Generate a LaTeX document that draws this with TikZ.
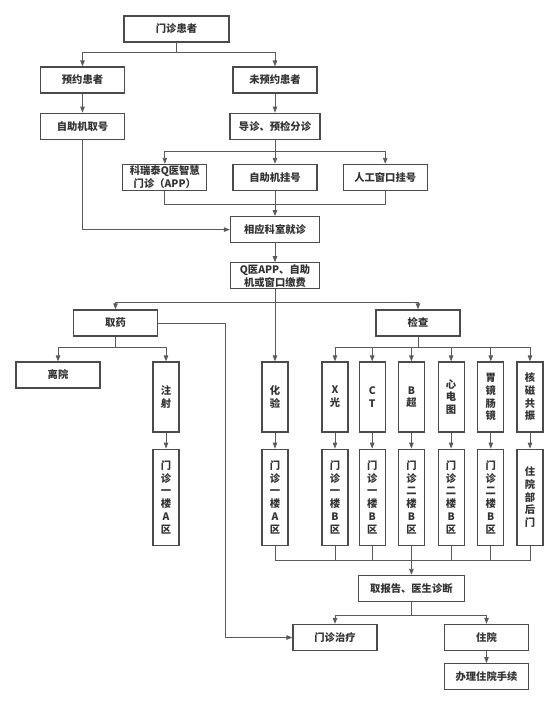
\documentclass[tikz,border=0pt]{standalone}
\usepackage{fontspec}
\usepackage{xcolor}
\usetikzlibrary{arrows.meta,positioning,calc}
\newfontfamily\cjk{Noto Sans CJK SC}
\definecolor{linegray}{RGB}{90,90,90}
\definecolor{boxgray}{RGB}{75,75,75}
\definecolor{textgray}{RGB}{51,51,51}

\tikzset{
  flowbox/.style={rectangle, draw=boxgray, line width=1.2pt, fill=white, text=textgray,
    minimum width=84pt, minimum height=26pt, inner sep=1pt, align=center,
    font=\cjk\bfseries\fontsize{10.3}{12.7}\selectfont},
  tallbox/.style={flowbox, minimum width=26pt, minimum height=70pt},
  roombox/.style={flowbox, minimum width=26pt, minimum height=96pt},
  link/.style={draw=linegray, line width=0.9pt, -{Triangle[length=6pt,width=4.5pt]}},
  joinline/.style={draw=linegray, line width=0.9pt}
}

\begin{document}
\begin{tikzpicture}[x=1pt, y=-1pt, node distance=20pt]
\useasboundingbox (0,0) rectangle (553,706);

\node[flowbox, minimum width=105pt] (patient) at (176.5,29) {门诊患者};
\node[flowbox] (yuyue) at (82.5,80) {预约患者};
\node[flowbox] (weiyuyue) at (275,80) {未预约患者};
\node[flowbox, below=19pt of yuyue] (quhao) {自助机取号};
\node[flowbox, minimum width=90pt, below=19pt of weiyuyue] (daozhen) {导诊、预检分诊};
\node[flowbox, below=24pt of daozhen] (zizhu) {自助机挂号};
\node[flowbox, left=25pt of zizhu] (app) {科瑞泰Q医智慧\\门诊（APP）};
\node[flowbox, right=25pt of zizhu] (rengong) {人工窗口挂号};
\node[flowbox, minimum width=89pt, below=25pt of zizhu] (jiuzhen) {相应科室就诊};
\node[flowbox, minimum width=89pt, below=19pt of jiuzhen] (jiaofei) {Q医APP、自助\\机或窗口缴费};

\node[flowbox] (quyao) at (115.5,323) {取药};
\node[flowbox] (jiancha) at (418,323) {检查};
\node[flowbox] (liyuan) at (58,375) {离院};
\node[tallbox] (zhushe) at (166,397) {注\\射};
\node[roombox, below=16pt of zhushe] (roomz) {门\\诊\\一\\楼\\A\\区};

\node[tallbox] (huayan) at (275,397) {化\\验};
\node[tallbox] (xray) at (335,397) {X\\光};
\node[tallbox, right=10pt of xray] (ct) {C\\T};
\node[tallbox, right=12pt of ct] (bchao) {B\\超};
\node[tallbox, right=12.5pt of bchao] (xindian) {心\\电\\图};
\node[tallbox, right=12.5pt of xindian] (weijing) {胃\\镜\\肠\\镜};
\node[tallbox, right=12pt of weijing] (heci) {核\\磁\\共\\振};

\node[roombox, below=16pt of huayan] (roomh) {门\\诊\\一\\楼\\A\\区};
\node[roombox, below=16pt of xray] (roomx) {门\\诊\\一\\楼\\B\\区};
\node[roombox, below=16pt of ct] (roomc) {门\\诊\\一\\楼\\B\\区};
\node[roombox, below=16pt of bchao] (roomb) {门\\诊\\二\\楼\\B\\区};
\node[roombox, below=16pt of xindian] (roomd) {门\\诊\\二\\楼\\B\\区};
\node[roombox, below=16pt of weijing] (roomw) {门\\诊\\二\\楼\\B\\区};
\node[roombox, below=16pt of heci] (roomn) {住\\院\\部\\后\\门};

\coordinate[below=15pt of roomb] (merge);
\node[flowbox, minimum width=106pt, below=29pt of roomb] (baogao) {取报告、医生诊断};
\node[flowbox] (zhiliao) at (335,637.5) {门诊治疗};
\node[flowbox] (zhuyuan) at (486.5,637.5) {住院};
\node[flowbox, below=12pt of zhuyuan] (banli) {办理住院手续};

% registration
\draw[link] (patient.south) -- ++(0,10) -| (yuyue.north);
\draw[link] (patient.south) -- ++(0,10) -| (weiyuyue.north);
\draw[link] (yuyue) -- (quhao);
\draw[link] (weiyuyue) -- (daozhen);
\draw[link] (daozhen.south) -- ++(0,12) -| (app.north);
\draw[link] (daozhen.south) -- ++(0,12) -| (rengong.north);
\draw[link] (daozhen) -- (zizhu);
\draw[joinline] (app.south) -- ++(0,13) -| (rengong.south);
\draw[link] (zizhu) -- (jiuzhen);
\draw[link] (quhao.south) |- (jiuzhen.west);
\draw[link] (jiuzhen) -- (jiaofei);

% after payment
\draw[link] (jiaofei.south) -- ++(0,13) -| (quyao.north);
\draw[link] (jiaofei.south) -- ++(0,13) -| (jiancha.north);
\draw[link] (jiaofei) -- (huayan);
\draw[link] (quyao.south) -- ++(0,11) -| (liyuan.north);
\draw[link] (quyao.south) -- ++(0,11) -| (zhushe.north);
\draw[link] (quyao.east) -- ++(67,0) |- (zhiliao.west);
\draw[link] (zhushe) -- (roomz);

\draw[link] (jiancha.south) -- ++(0,11) -| (xray.north);
\draw[link] (jiancha.south) -- ++(0,11) -| (ct.north);
\draw[link] (jiancha.south) -- ++(0,11) -| (bchao.north);
\draw[link] (jiancha.south) -- ++(0,11) -| (xindian.north);
\draw[link] (jiancha.south) -- ++(0,11) -| (weijing.north);
\draw[link] (jiancha.south) -- ++(0,11) -| (heci.north);

\draw[link] (huayan) -- (roomh);
\draw[link] (xray) -- (roomx);
\draw[link] (ct) -- (roomc);
\draw[link] (bchao) -- (roomb);
\draw[link] (xindian) -- (roomd);
\draw[link] (weijing) -- (roomw);
\draw[link] (heci) -- (roomn);

% reports
\draw[joinline] (roomh.south) |- (merge) -| (roomn.south);
\draw[joinline] (roomx.south) -- (roomx.south |- merge);
\draw[joinline] (roomc.south) -- (roomc.south |- merge);
\draw[joinline] (roomd.south) -- (roomd.south |- merge);
\draw[joinline] (roomw.south) -- (roomw.south |- merge);
\draw[link] (roomb) -- (baogao);
\draw[link] (baogao.south) -- ++(0,13) -| (zhiliao.north);
\draw[link] (baogao.south) -- ++(0,13) -| (zhuyuan.north);
\draw[link] (zhuyuan) -- (banli);

\end{tikzpicture}
\end{document}
